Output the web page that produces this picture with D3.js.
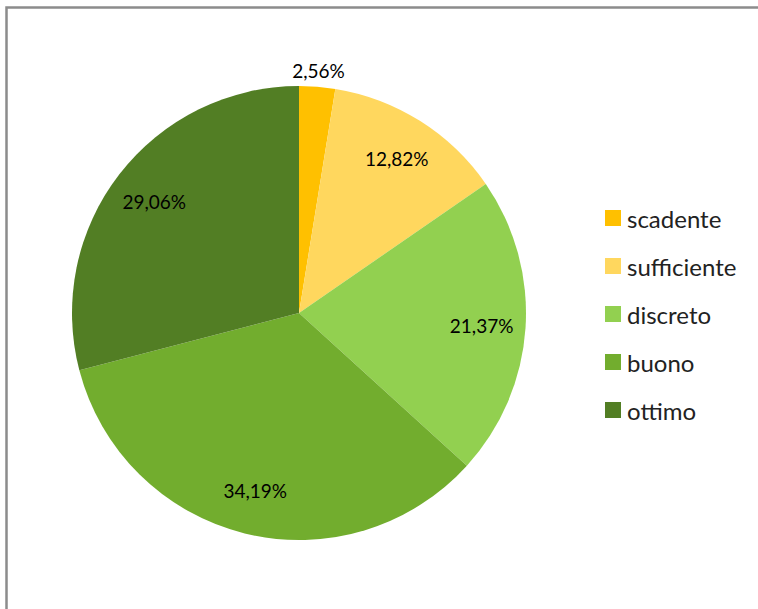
<!DOCTYPE html>
<html>
<head>
<meta charset="utf-8">
<script src="https://cdn.jsdelivr.net/npm/d3@7"></script>
<style>
  html, body { margin: 0; padding: 0; background: #fff; }
  svg { display: block; }
</style>
</head>
<body>
<svg id="chart" width="758" height="609"></svg>
<script>
// Valutazioni: categorie, percentuali e colori delle fette
const categories = ["scadente", "sufficiente", "discreto", "buono", "ottimo"];
const percentages = [2.56, 12.82, 21.37, 34.19, 29.06];
const labels = ["2,56%", "12,82%", "21,37%", "34,19%", "29,06%"];
const colors = ["#FFC000", "#FFD75E", "#92D050", "#72AD2E", "#527E24"];

const svg = d3.select("#chart");
const fontFamily = "Lato, 'Open Sans', 'Liberation Sans', sans-serif";

// Chart area frame (extends beyond the right and bottom edges)
svg.append("rect")
  .attr("x", 6.5).attr("y", 7.5)
  .attr("width", 800).attr("height", 700)
  .attr("fill", "#fff")
  .attr("stroke", "#8c8c8c")
  .attr("stroke-width", 2.5);

const cx = 299, cy = 313, radius = 227;

const color = d3.scaleOrdinal().domain(categories).range(colors);

const pie = d3.pie().sort(null).value(d => d.value);
const data = categories.map((c, i) => ({ name: c, value: percentages[i], label: labels[i] }));
const arcs = pie(data);

const arc = d3.arc().innerRadius(0).outerRadius(radius);
const innerLabelArc = d3.arc().innerRadius(183).outerRadius(183);
const outerLabelArc = d3.arc().innerRadius(243).outerRadius(243);

const g = svg.append("g").attr("transform", `translate(${cx},${cy})`);

g.selectAll("path.slice")
  .data(arcs)
  .join("path")
  .attr("class", "slice")
  .attr("d", arc)
  .attr("fill", d => color(d.data.name));

// Data labels: the small slice gets its label outside the pie
g.selectAll("text.value")
  .data(arcs)
  .join("text")
  .attr("class", "value")
  .attr("transform", d => {
    const small = d.data.value < 5;
    const p = (small ? outerLabelArc : innerLabelArc).centroid(d);
    return `translate(${p[0]},${p[1]})`;
  })
  .attr("text-anchor", "middle")
  .attr("dominant-baseline", "central")
  .attr("font-family", fontFamily)
  .attr("font-size", 19)
  .attr("fill", "#000")
  .text(d => d.data.label);

// Legend
const legendX = 605, legendY0 = 218, legendStep = 48;
const legend = svg.append("g");
const items = legend.selectAll("g.item")
  .data(categories)
  .join("g")
  .attr("class", "item")
  .attr("transform", (d, i) => `translate(${legendX},${legendY0 + i * legendStep})`);

items.append("rect")
  .attr("x", 0).attr("y", -8)
  .attr("width", 16).attr("height", 16)
  .attr("fill", d => color(d));

items.append("text")
  .attr("x", 22).attr("y", 0)
  .attr("dominant-baseline", "central")
  .attr("font-family", fontFamily)
  .attr("font-size", 24)
  .attr("fill", "#222")
  .text(d => d);
</script>
</body>
</html>
